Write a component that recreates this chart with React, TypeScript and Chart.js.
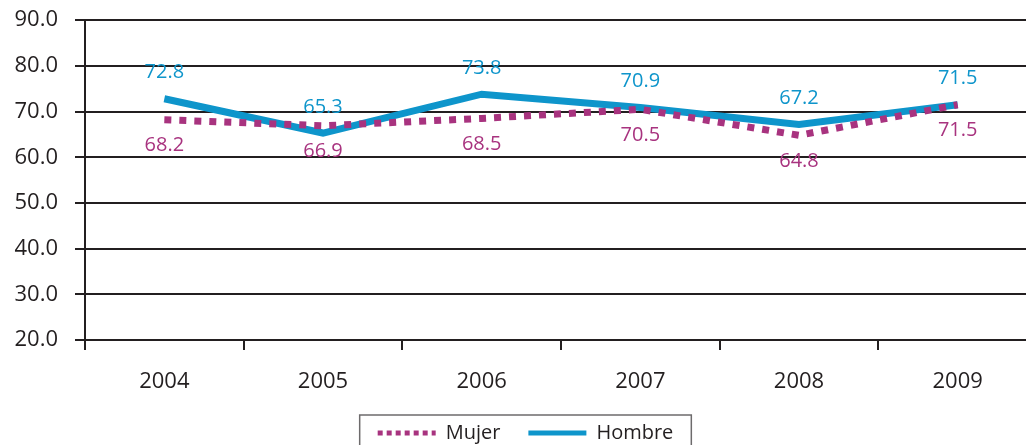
import React, { useEffect, useRef } from "react";
import { Chart, registerables } from "chart.js";

Chart.register(...registerables);

const years = ["2004", "2005", "2006", "2007", "2008", "2009"];
const mujer = [68.2, 66.9, 68.5, 70.5, 64.8, 71.5];
const hombre = [72.8, 65.3, 73.8, 70.9, 67.2, 71.5];
const seriesNames = ["Mujer", "Hombre"];

const BLUE = "#0e95cb";
const MAGENTA = "#a8337f";
const INK = "#231f20";
const FONT = "'Open Sans', 'DejaVu Sans', sans-serif";

const valueLabels = {
  id: "valueLabels",
  afterDatasetsDraw(chart: any) {
    const ctx = chart.ctx;
    ctx.save();
    ctx.font = `20px ${FONT}`;
    ctx.textAlign = "center";
    ctx.textBaseline = "middle";
    chart.data.datasets.forEach((ds: any, i: number) => {
      const meta = chart.getDatasetMeta(i);
      const off = i === 0 ? 26 : -26;
      ctx.fillStyle = ds.borderColor;
      meta.data.forEach((pt: any, j: number) => {
        ctx.fillText(Number(ds.data[j]).toFixed(1), pt.x, pt.y + off);
      });
    });
    ctx.restore();
  },
};

const legendFrame = {
  id: "legendFrame",
  afterDraw(chart: any) {
    const lg = chart.legend;
    if (!lg || !lg.legendHitBoxes || !lg.legendHitBoxes.length) return;
    const boxes = lg.legendHitBoxes;
    const first = boxes[0];
    const last = boxes[boxes.length - 1];
    const x0 = first.left - 18;
    const x1 = last.left + last.width + 18;
    const y0 = first.top - 8;
    const ctx = chart.ctx;
    ctx.save();
    ctx.strokeStyle = "#6d6b6c";
    ctx.lineWidth = 1.5;
    ctx.strokeRect(x0, y0, x1 - x0, chart.height);
    ctx.restore();
  },
};

export default function App() {
  const ref = useRef<HTMLCanvasElement | null>(null);
  useEffect(() => {
    if (!ref.current) return;
    const chart = new Chart(ref.current, {
      type: "line",
      data: {
        labels: years,
        datasets: [
          {
            label: seriesNames[0],
            data: mujer,
            borderColor: MAGENTA,
            backgroundColor: MAGENTA,
            borderWidth: 7,
            borderDash: [7, 8],
            pointRadius: 0,
            tension: 0,
          },
          {
            label: seriesNames[1],
            data: hombre,
            borderColor: BLUE,
            backgroundColor: BLUE,
            borderWidth: 7,
            pointRadius: 0,
            tension: 0,
          },
        ],
      },
      options: {
        responsive: false,
        animation: false,
        layout: { padding: { left: 14, right: 3, top: 6, bottom: 0 } },
        plugins: {
          tooltip: { enabled: false },
          legend: {
            position: "bottom",
            labels: {
              usePointStyle: true,
              pointStyleWidth: 58,
              padding: 28,
              color: INK,
              font: { family: FONT, size: 20 },
              generateLabels: (chart: any) =>
                chart.data.datasets.map((ds: any, i: number) => ({
                  text: ds.label,
                  fillStyle: ds.borderColor,
                  strokeStyle: ds.borderColor,
                  lineWidth: 5,
                  lineDash: i === 0 ? [5, 4] : [],
                  pointStyle: "line",
                  datasetIndex: i,
                  hidden: false,
                  fontColor: INK,
                })),
            },
          },
        },
        scales: {
          x: {
            offset: true,
            afterFit: (s: any) => {
              s.height = 55;
            },
            grid: {
              offset: true,
              drawOnChartArea: false,
              drawTicks: true,
              tickLength: 10,
              color: INK,
              lineWidth: 2,
            },
            border: { display: true, color: INK, width: 2 },
            ticks: { color: INK, font: { family: FONT, size: 22 }, padding: 19 },
          },
          y: {
            min: 20,
            max: 90,
            afterFit: (s: any) => {
              s.width = 71;
            },
            grid: { color: INK, lineWidth: 2, tickLength: 10, drawTicks: true },
            border: { display: true, color: INK, width: 2 },
            ticks: {
              stepSize: 10,
              color: INK,
              font: { family: FONT, size: 22 },
              padding: 17,
              callback: (v: any) => Number(v).toFixed(1),
            },
          },
        },
      },
      plugins: [valueLabels, legendFrame],
    } as any);
    return () => chart.destroy();
  }, []);
  return (
    <div
      style={{
        position: "absolute",
        left: 0,
        top: 0,
        width: 1026,
        height: 445,
        overflow: "hidden",
        background: "#fff",
      }}
    >
      <canvas
        ref={ref}
        width={1040}
        height={463}
        style={{ display: "block", width: 1040, height: 463, marginTop: -10 }}
      />
    </div>
  );
}
